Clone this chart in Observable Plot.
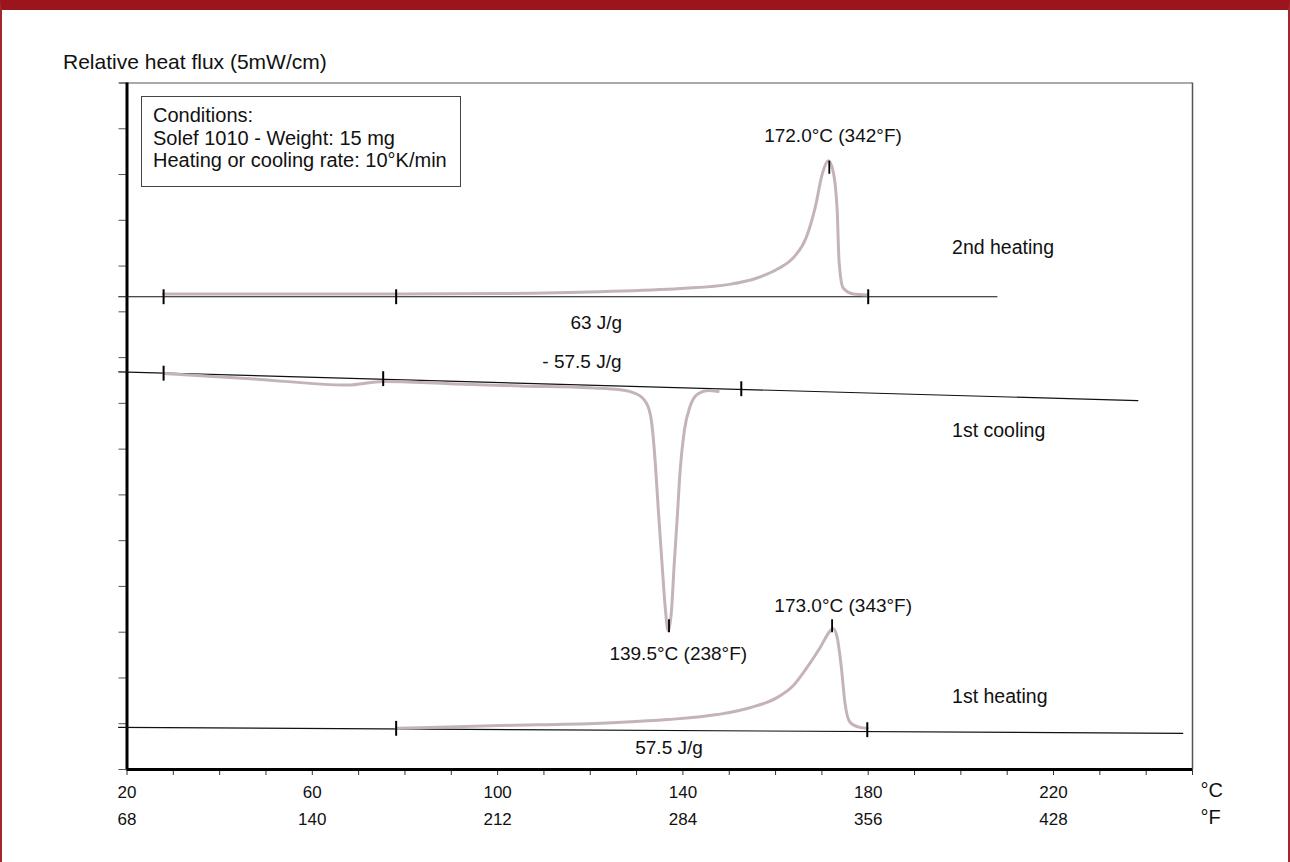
<!DOCTYPE html>
<html>
<head>
<meta charset="utf-8">
<script src="https://cdn.jsdelivr.net/npm/d3@7"></script>
<script src="https://cdn.jsdelivr.net/npm/@observablehq/plot@0.6"></script>
<style>
  html, body { margin: 0; padding: 0; background: #fff; }
  #page { position: relative; width: 1290px; height: 862px; overflow: hidden; font-family: "Liberation Sans", Arial, Helvetica, sans-serif; color: #111; }
  #border { position: absolute; left: 0; top: 0; width: 1290px; height: 862px; box-sizing: border-box;
            border-top: 10px solid #9b151c; border-left: 2px solid #a3262c; border-right: 2px solid #a3262c; }
  #ytitle { position: absolute; left: 63px; top: 50px; font-size: 21px; white-space: nowrap; }
  #legend { position: absolute; left: 141px; top: 96px; width: 320px; height: 91px; box-sizing: border-box;
            border: 1px solid #444; padding: 7px 0 0 11px; font-size: 20px; line-height: 22.5px; background: #fff; white-space: nowrap; }
  #chart { position: absolute; left: 0; top: 0; }
</style>
</head>
<body>
<div id="page">
  <div id="border"></div>
  <div id="ytitle">Relative heat flux (5mW/cm)</div>
  <div id="chart"></div>
  <div id="legend">
    <div>Conditions:</div>
    <div>Solef 1010 - Weight: 15 mg</div>
    <div>Heating or cooling rate: 10°K/min</div>
  </div>
</div>
<script>
// ---- data (temperature °C, relative heat flux in axis units) ----
const xTicks = d3.range(20, 251, 10);
const cLabels = [20, 60, 100, 140, 180, 220];
const fLabels = [68, 140, 212, 284, 356, 428];
const yTicks = d3.range(0, 16);

const heating2 = [
  [27.9,10.39],[57.4,10.39],[78.1,10.39],[100.6,10.40],[122.2,10.44],[139.4,10.51],
  [150.0,10.60],[156.0,10.74],[160.5,10.94],[164.0,11.20],[166.6,11.62],[168.6,12.30],[170.1,13.02],
  [171.4,13.30],[172.4,13.08],[173.3,12.21],[173.7,11.11],[174.6,10.52],[176.8,10.39],[179.8,10.37]
];
const cooling1 = [
  [27.9,8.65],[46.6,8.54],[67.6,8.40],[75.3,8.48],[89.8,8.43],[104.9,8.38],[120.0,8.34],
  [126.5,8.30],[129.9,8.21],[132.1,8.01],[133.2,7.62],[134.0,6.75],[134.7,5.66],[135.6,4.34],
  [136.2,3.52],[136.8,3.03],[137.5,3.43],[138.1,4.45],[138.8,5.55],[139.4,6.53],[140.3,7.40],
  [141.6,7.95],[143.3,8.21],[145.5,8.28],[147.6,8.26]
];
const heating1 = [
  [78.1,0.90],[100.6,0.96],[122.2,1.01],[136.6,1.09],[147.4,1.20],[154.5,1.35],[160.3,1.57],
  [163.8,1.83],[166.8,2.23],[169.6,2.66],[171.8,3.03],[172.4,3.08],[173.3,2.88],[174.2,2.23],
  [175.0,1.44],[176.1,1.03],[178.2,0.92],[179.8,0.90]
];
const baseline2 = [[18.2,10.33],[207.8,10.33]];
const baselineC = [[18.2,8.69],[238.2,8.06]];
const baseline1 = [[18.2,0.92],[247.9,0.79]];

const limitMarks = [
  [27.9,10.33],[78.1,10.33],[180.0,10.33],
  [27.9,8.66],[75.3,8.54],[152.6,8.32],
  [78.1,0.90],[179.8,0.87]
];
const peakMarks = [[171.6,13.16],[137.0,3.14],[172.2,3.14]];

const peakLabels = [
  {t: 172.4, v: 13.85, label: "172.0°C (342°F)"},
  {t: 121.3, v: 9.76, label: "63 J/g"},
  {t: 118.2, v: 8.91, label: "- 57.5 J/g"},
  {t: 139.0, v: 2.53, label: "139.5°C (238°F)"},
  {t: 174.6, v: 3.58, label: "173.0°C (343°F)"},
  {t: 137.0, v: 0.47, label: "57.5 J/g"}
];
const seriesLabels = [
  {t: 198.1, v: 11.40, label: "2nd heating"},
  {t: 198.1, v: 7.40, label: "1st cooling"},
  {t: 198.1, v: 1.59, label: "1st heating"}
];

const fByC = new Map(cLabels.map((c, i) => [c, fLabels[i]]));
const vbar = {draw(ctx, size) { const h = Math.sqrt(size); ctx.moveTo(0, -h); ctx.lineTo(0, h); }};
const curveColor = "#c5b3bc";
const X = d => d[0], Y = d => d[1];

const chart = Plot.plot({
  width: 1290,
  height: 862,
  marginLeft: 126.5,
  marginRight: 98,
  marginTop: 82.5,
  marginBottom: 93,
  style: {fontFamily: "'Liberation Sans', Arial, Helvetica, sans-serif", fontSize: "17px", background: "transparent", overflow: "visible", color: "#111"},
  x: {domain: [20, 250], label: null},
  y: {domain: [0, 15], label: null},
  marks: [
    Plot.axisY(yTicks, {tickSize: 8, tickFormat: () => "", stroke: "#555", label: null}),
    Plot.axisX(xTicks, {tickSize: 6, tickFormat: () => "", stroke: "#333", label: null}),
    Plot.axisX(cLabels, {tickSize: 0, tickPadding: 16, tickFormat: d => String(d), fontSize: 17, label: null}),
    Plot.axisX(cLabels, {tickSize: 0, tickPadding: 43, tickFormat: d => String(fByC.get(d)), fontSize: 17, label: null}),
    Plot.text(["°C"], {x: 250, y: 0, dx: 8, dy: 21, text: d => d, textAnchor: "start", fontSize: 20}),
    Plot.text(["°F"], {x: 250, y: 0, dx: 8, dy: 48, text: d => d, textAnchor: "start", fontSize: 20}),
    // frame
    Plot.ruleY([15], {x1: 18.4, x2: 250, stroke: "#555", strokeWidth: 1}),
    Plot.ruleX([250], {y1: 0, y2: 15, stroke: "#555", strokeWidth: 1.5}),
    Plot.ruleX([20], {y1: 0, y2: 15, stroke: "#000", strokeWidth: 3}),
    Plot.ruleY([0], {x1: 20, x2: 250, stroke: "#000", strokeWidth: 3}),
    // baselines
    Plot.line(baseline2, {x: X, y: Y, stroke: "#111", strokeWidth: 1.2}),
    Plot.line(baselineC, {x: X, y: Y, stroke: "#111", strokeWidth: 1.2}),
    Plot.line(baseline1, {x: X, y: Y, stroke: "#111", strokeWidth: 1.2}),
    // curves
    Plot.line(heating2, {x: X, y: Y, stroke: curveColor, strokeWidth: 3, curve: "monotone-x"}),
    Plot.line(cooling1, {x: X, y: Y, stroke: curveColor, strokeWidth: 3, curve: "monotone-x"}),
    Plot.line(heating1, {x: X, y: Y, stroke: curveColor, strokeWidth: 3, curve: "monotone-x"}),
    // markers
    Plot.dot(limitMarks, {x: X, y: Y, symbol: vbar, r: 4.2, stroke: "#000", strokeWidth: 2, fill: "none"}),
    Plot.dot(peakMarks, {x: X, y: Y, symbol: vbar, r: 3.7, stroke: "#000", strokeWidth: 1.8, fill: "none"}),
    // annotations
    Plot.text(peakLabels, {x: "t", y: "v", text: "label", fontSize: 19, fill: "#111"}),
    Plot.text(seriesLabels, {x: "t", y: "v", text: "label", fontSize: 19.5, textAnchor: "start", fill: "#111"})
  ]
});
document.getElementById("chart").appendChild(chart);
</script>
</body>
</html>
